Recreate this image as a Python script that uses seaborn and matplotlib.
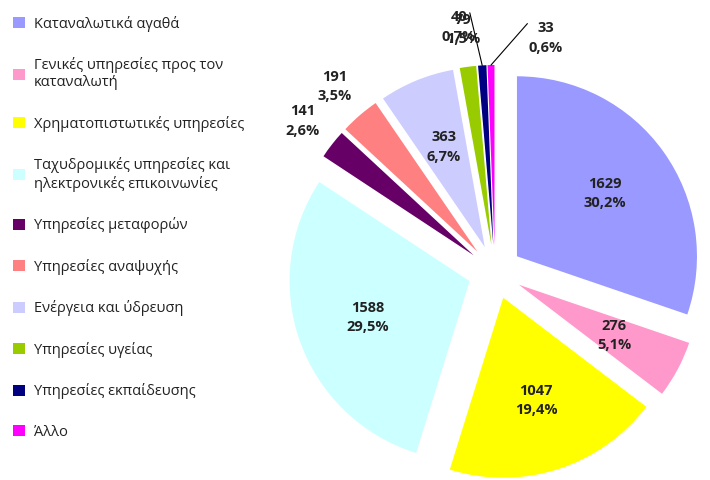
import matplotlib
matplotlib.use("Agg")
import matplotlib.pyplot as plt
import seaborn as sns
import numpy as np

categories = ["Καταναλωτικά αγαθά", "Γενικές υπηρεσίες προς τον\nκαταναλωτή",
              "Χρηματοπιστωτικές υπηρεσίες", "Ταχυδρομικές υπηρεσίες και\nηλεκτρονικές επικοινωνίες",
              "Υπηρεσίες μεταφορών", "Υπηρεσίες αναψυχής", "Ενέργεια και ύδρευση",
              "Υπηρεσίες υγείας", "Υπηρεσίες εκπαίδευσης", "Άλλο"]
values = [1629, 276, 1047, 1588, 141, 191, 363, 79, 40, 33]
percents = ["30,2%", "5,1%", "19,4%", "29,5%", "2,6%", "3,5%", "6,7%", "1,5%", "0,7%", "0,6%"]
colors = ["#9999FF", "#FF99CC", "#FFFF00", "#CCFFFF", "#660066", "#FF8080",
          "#CCCCFF", "#99CC00", "#000080", "#FF00FF"]

sns.set_theme(style="white")
plt.rcParams["font.family"] = "Open Sans"
fig = plt.figure(figsize=(7.1, 4.8), dpi=100)
ax = fig.add_axes([0, 0, 1, 1])
cx, cy, R = 495, 208, 180

wedges, _ = ax.pie(values, colors=colors, startangle=90, counterclock=False,
                   explode=[0.15] * len(values), radius=1.0,
                   wedgeprops=dict(linewidth=0))
ax.set_xlim(-cx / R, (710 - cx) / R)
ax.set_ylim(-cy / R, (480 - cy) / R)
ax.set_aspect("equal")
ax.axis("off")

kw = dict(ha="center", va="center", fontsize=10.5, fontweight="bold",
          color="#222222", linespacing=1.5)
for i, w in enumerate(wedges):
    ang = np.deg2rad((w.theta1 + w.theta2) / 2)
    c = np.array([np.cos(ang), np.sin(ang)])
    txt = f"{values[i]}\n{percents[i]}"
    if values[i] > 250:
        pos = c * 0.15 + c * 0.6
        ax.text(*pos, txt, **kw)
    elif values[i] > 60:
        pos = c * 1.36
        ax.text(*pos, txt, **kw)
    else:
        start = c * 1.15
        pos = np.array([-0.2, 1.36]) if i == 8 else np.array([0.28, 1.3])
        ax.plot([start[0], pos[0] + (0.06 if i == 8 else -0.1)],
                [start[1], pos[1] + 0.08], color="black", lw=0.8)
        ax.text(*pos, txt, **kw)

leg = fig.legend(wedges, categories, loc="upper left", bbox_to_anchor=(0.0, 0.995),
                 frameon=False, fontsize=10.5, labelspacing=1.75, handlelength=0.8,
                 handleheight=0.8, handletextpad=0.6)
for t in leg.get_texts():
    t.set_color("#222222")

fig.savefig("out.png", dpi=100)
